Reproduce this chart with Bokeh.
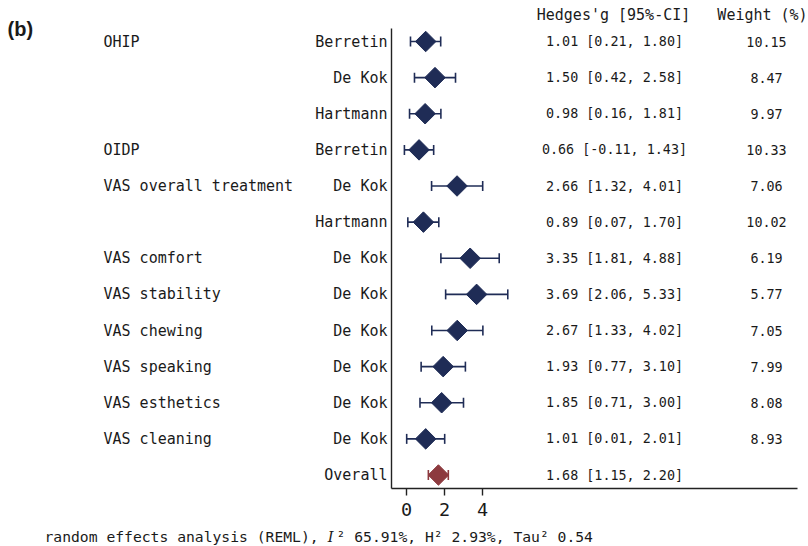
import numpy as np
from bokeh.plotting import figure
from bokeh.models import (ColumnDataSource, LabelSet, Label, Whisker, TeeHead,
                          FixedTicker, Range1d, LinearAxis)
from bokeh.core.properties import value
from bokeh.embed import file_html
from bokeh.resources import INLINE

# ---------------- data ----------------
groups = ["OHIP", "", "", "OIDP", "VAS overall treatment", "", "VAS comfort",
          "VAS stability", "VAS chewing", "VAS speaking", "VAS esthetics",
          "VAS cleaning", ""]
studies = ["Berretin", "De Kok", "Hartmann", "Berretin", "De Kok", "Hartmann",
           "De Kok", "De Kok", "De Kok", "De Kok", "De Kok", "De Kok", "Overall"]
hedges_g = [1.01, 1.50, 0.98, 0.66, 2.66, 0.89, 3.35, 3.69, 2.67, 1.93, 1.85, 1.01, 1.68]
ci_low = [0.21, 0.42, 0.16, -0.11, 1.32, 0.07, 1.81, 2.06, 1.33, 0.77, 0.71, 0.01, 1.15]
ci_high = [1.80, 2.58, 1.81, 1.43, 4.01, 1.70, 4.88, 5.33, 4.02, 3.10, 3.00, 2.01, 2.20]
weights = ["10.15", "8.47", "9.97", "10.33", "7.06", "10.02", "6.19", "5.77",
           "7.05", "7.99", "8.08", "8.93", ""]
x_ticks = [0, 2, 4]
footnote_parts = ["random effects analysis (REML), ", "I",
                  "\u00b2 65.91%, H\u00b2 2.93%, Tau\u00b2 0.54"]

n = len(studies)
rows = list(range(n - 1, -1, -1))
est_text = [f"{a:.2f} [{b:.2f}, {c:.2f}]" for a, b, c in zip(hedges_g, ci_low, ci_high)]

NAVY = "#1f2c56"
RED = "#8d3a3f"
TXT = "#1a1a1a"
AX = "#222222"
MONO = "DejaVu Sans Mono"

W, H = 808, 546
# axis-area geometry (page pixels) -> data ranges
X0_PX, X_UNIT = 406.0, 19.0          # pixel of x=0 and pixels per unit
R0_PX, R_UNIT = 474.5, 36.125        # pixel of row 0 and pixels per row
ax_left_px, ax_right_px, ax_top_px, ax_bot_px = 391.0, 797.0, 28.0, 488.0

def xv(px):
    return (px - X0_PX) / X_UNIT

def yv(py):
    return (R0_PX - py) / R_UNIT

src = ColumnDataSource(dict(y=rows, g=hedges_g, lo=ci_low, hi=ci_high, group=groups,
                            study=studies, est=est_text, weight=weights))
src_s = ColumnDataSource(dict(y=rows[:-1], g=hedges_g[:-1], lo=ci_low[:-1], hi=ci_high[:-1]))
src_o = ColumnDataSource(dict(y=rows[-1:], g=hedges_g[-1:], lo=ci_low[-1:], hi=ci_high[-1:]))

p = figure(width=W, height=H, output_backend="svg", toolbar_location=None,
           title=None, x_axis_type=None, y_axis_type=None,
           x_range=Range1d(xv(0), xv(W)), y_range=Range1d(yv(H), yv(0)),
           min_border_left=0, min_border_right=0, min_border_top=0,
           min_border_bottom=0)
p.outline_line_color = None
p.background_fill_color = "white"
p.border_fill_color = "white"

# axes (spines) at fixed locations
xaxis = LinearAxis(fixed_location=yv(ax_bot_px), bounds=(xv(ax_left_px), xv(ax_right_px)),
                   ticker=FixedTicker(ticks=x_ticks))
xaxis.axis_line_color = AX
xaxis.axis_line_width = 1.4
xaxis.major_tick_line_color = AX
xaxis.major_tick_line_width = 1.4
xaxis.major_tick_out = 7
xaxis.major_tick_in = 0
xaxis.minor_tick_line_color = None
xaxis.major_label_text_font = MONO
xaxis.major_label_text_font_size = "18.5px"
xaxis.major_label_text_color = TXT
xaxis.major_label_standoff = 7
p.add_layout(xaxis, "below")

yaxis = LinearAxis(fixed_location=xv(ax_left_px), bounds=(yv(ax_bot_px), yv(ax_top_px)),
                   ticker=FixedTicker(ticks=[]))
yaxis.axis_line_color = AX
yaxis.axis_line_width = 1.4
yaxis.major_tick_line_color = None
yaxis.minor_tick_line_color = None
yaxis.major_label_text_font_size = "0px"
p.add_layout(yaxis, "left")

# error bars
for s, col in ((src_s, NAVY), (src_o, RED)):
    w = Whisker(base="y", lower="lo", upper="hi", dimension="width", source=s,
                line_color=col, line_width=1.6,
                lower_head=TeeHead(size=10, line_color=col, line_width=1.6),
                upper_head=TeeHead(size=10, line_color=col, line_width=1.6))
    p.add_layout(w)

p.scatter(x="g", y="y", source=src_s, marker="square", angle=np.pi / 4, size=14.5,
          fill_color=NAVY, line_color=NAVY)
p.scatter(x="g", y="y", source=src_o, marker="square", angle=np.pi / 4, size=14.5,
          fill_color=RED, line_color=RED)

# text columns (x in page pixels, y in rows)
def col_labels(field, x, align, size):
    return LabelSet(x=x, y="y", x_units="screen", y_units="data", text=field, source=src,
                    text_align=align, text_baseline="middle", text_font=value(MONO),
                    text_font_size=size, text_color=TXT)

p.add_layout(col_labels("group", 103, "left", "15px"))
p.add_layout(col_labels("study", 387, "right", "15px"))
p.add_layout(col_labels("est", 614, "center", "13.4px"))
p.add_layout(col_labels("weight", 766, "center", "13.4px"))

def lab(text, x, y_page, size, align="center", font=MONO, style="normal", baseline="middle"):
    p.add_layout(Label(x=x, y=H - y_page, x_units="screen", y_units="screen", text=text,
                       text_align=align, text_baseline=baseline, text_font=font,
                       text_font_size=size, text_font_style=style, text_color=TXT))

lab("Hedges'g [95%-CI]", 613, 14, "15px")
lab("Weight (%)", 762, 14, "15px")
lab("(b)", 7, 28, "20px", align="left", font="Liberation Sans", style="bold")

adv = 0.602 * 14.7
x0 = 44
fy = 536
lab(footnote_parts[0], x0, fy, "14.7px", align="left")
lab(footnote_parts[1], x0 + 32 * adv, fy, "14.7px", align="left", font="DejaVu Serif",
    style="italic")
lab(footnote_parts[2], x0 + 33 * adv, fy, "14.7px", align="left")

open("out.html", "w").write(file_html(p, INLINE))
